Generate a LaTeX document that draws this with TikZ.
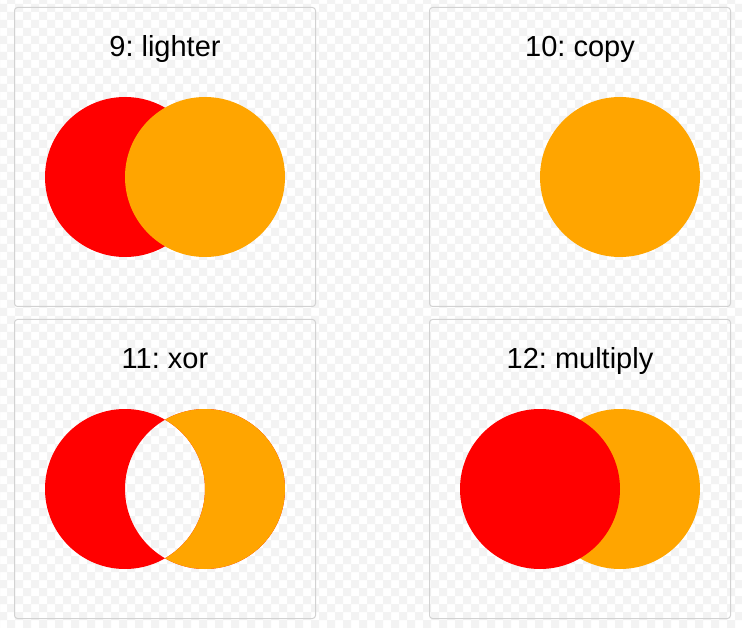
\documentclass[tikz,border=0pt]{standalone}
\usepackage{fontspec}
\setmainfont{Liberation Sans}
\frenchspacing
\definecolor{cred}{HTML}{FF0000}
\definecolor{corange}{HTML}{FFA500}
\definecolor{checker}{HTML}{F3F3F3}
\definecolor{panelborder}{HTML}{D2D2D2}
\begin{document}
\begin{tikzpicture}[x=1pt,y=-1pt,
  panel/.style={draw=panelborder,line width=1pt,rounded corners=3pt},
  title/.style={anchor=base,font=\fontsize{29}{34}\selectfont,text=black,inner sep=0pt},
  redc/.style={fill=cred},
  orangec/.style={fill=corange}]
\useasboundingbox (0,0) rectangle (742,628);
\fill[white] (0,0) rectangle (742,628);
% checkerboard by even-odd stripes
\fill[checker,even odd rule]
  \foreach \i in {0,...,46} { (-1+16*\i,0) rectangle (7+16*\i,628) }
  \foreach \j in {0,...,39} { (0,-4+16*\j) rectangle (742,4+16*\j) };
% panels
\draw[panel] (14.5,7.5) rectangle (315.5,306.5);
\draw[panel] (429.5,7.5) rectangle (730.5,306.5);
\draw[panel] (14.5,319.5) rectangle (315.5,618.5);
\draw[panel] (429.5,319.5) rectangle (730.5,618.5);
% titles
\node[title] (t9) at (165,57) {9: lighter};
\node[title] (t10) at (580,57) {10: copy};
\node[title] (t11) at (165,369) {11: xor};
\node[title] (t12) at (580,369) {12: multiply};
% 9: lighter
\fill[redc] (125,177) circle (80);
\fill[orangec] (205,177) circle (80);
% 10: copy
\fill[orangec] (620,177) circle (80);
% 11: xor
\fill[redc,even odd rule] (125,489) circle (80) (205,489) circle (80);
\begin{scope}
  \clip (165,400) rectangle (300,580);
  \fill[orangec,even odd rule] (125,489) circle (80) (205,489) circle (80);
\end{scope}
% 12: multiply
\fill[orangec] (620,489) circle (80);
\fill[redc] (540,489) circle (80);
\end{tikzpicture}
\end{document}
